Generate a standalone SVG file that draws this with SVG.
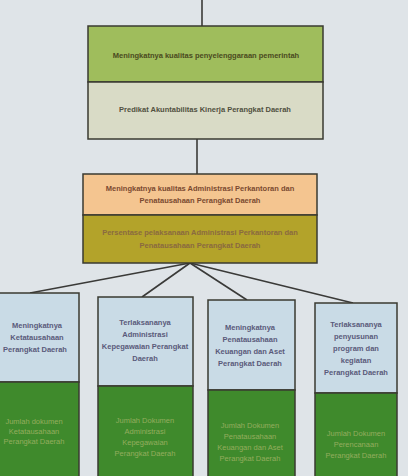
<svg xmlns="http://www.w3.org/2000/svg" width="408" height="476" viewBox="0 0 408 476">
<style>
.b{stroke:#3a3a30;stroke-width:1.5}
.t{font-family:"Liberation Sans",Arial,sans-serif;font-size:7.5px;font-weight:bold;text-anchor:middle}
.d{fill:#4a4a20}
.n{fill:#5a5a7a}
.g{fill:#94ad5e;font-weight:normal}
.c{stroke:#3a3a38;stroke-width:1.6;fill:none}
</style>
<rect width="408" height="476" fill="#dfe4e8"/>
<g id="connectors">
<line class="c" x1="202" y1="0" x2="202" y2="26"/>
<line class="c" x1="197" y1="139" x2="197" y2="174"/>
<line class="c" x1="190" y1="263" x2="30" y2="293"/>
<line class="c" x1="190" y1="263" x2="142" y2="297"/>
<line class="c" x1="190" y1="263" x2="247" y2="300"/>
<line class="c" x1="190" y1="263" x2="353" y2="303"/>
</g>
<g id="n1">
<rect class="b" x="88" y="26" width="235" height="56" fill="#9fbd5c"/>
<rect class="b" x="88" y="82" width="235" height="57" fill="#d9dbc6"/>
<text class="t d" x="206" y="58">Meningkatnya kualitas penyelenggaraan pemerintah</text>
<text class="t d" x="205" y="112" style="fill:#505040">Predikat Akuntabilitas Kinerja Perangkat Daerah</text>
</g>
<g id="n2">
<rect class="b" x="83" y="174" width="234" height="41" fill="#f4c590"/>
<rect class="b" x="83" y="215" width="234" height="48" fill="#b3a32a"/>
<text class="t" x="200" y="191" fill="#7a4a30">Meningkatnya kualitas Administrasi Perkantoran dan</text>
<text class="t" x="200" y="203" fill="#7a4a30">Penatausahaan Perangkat Daerah</text>
<text class="t" x="200" y="235" fill="#8a6a40">Persentase pelaksanaan  Administrasi Perkantoran dan</text>
<text class="t" x="200" y="248" fill="#8a6a40">Penatausahaan Perangkat Daerah</text>
</g>
<g id="c1">
<rect class="b" x="-6" y="293" width="85" height="89" fill="#c9dbe6"/>
<rect class="b" x="-6" y="382" width="85" height="100" fill="#3f8a2c"/>
<text class="t n" x="37" y="328">Meningkatnya</text>
<text class="t n" x="37" y="340">Ketatausahaan</text>
<text class="t n" x="35" y="352">Perangkat Daerah</text>
<text class="t g" x="34" y="424">Jumlah dokumen</text>
<text class="t g" x="34" y="434">Ketatausahaan</text>
<text class="t g" x="34" y="444">Perangkat Daerah</text>
</g>
<g id="c2">
<rect class="b" x="98" y="297" width="95" height="89" fill="#c9dbe6"/>
<rect class="b" x="98" y="386" width="95" height="96" fill="#3f8a2c"/>
<text class="t n" x="145" y="325">Terlaksananya</text>
<text class="t n" x="145" y="337">Administrasi</text>
<text class="t n" x="145" y="349">Kepegawaian Perangkat</text>
<text class="t n" x="145" y="361">Daerah</text>
<text class="t g" x="145" y="423">Jumlah Dokumen</text>
<text class="t g" x="145" y="434">Administrasi</text>
<text class="t g" x="145" y="445">Kepegawaian</text>
<text class="t g" x="145" y="456">Perangkat Daerah</text>
</g>
<g id="c3">
<rect class="b" x="208" y="300" width="87" height="90" fill="#c9dbe6"/>
<rect class="b" x="208" y="390" width="87" height="92" fill="#3f8a2c"/>
<text class="t n" x="250" y="330">Meningkatnya</text>
<text class="t n" x="250" y="342">Penatausahaan</text>
<text class="t n" x="250" y="354">Keuangan dan Aset</text>
<text class="t n" x="250" y="366">Perangkat Daerah</text>
<text class="t g" x="250" y="428">Jumlah Dokumen</text>
<text class="t g" x="250" y="439">Penatausahaan</text>
<text class="t g" x="250" y="450">Keuangan dan Aset</text>
<text class="t g" x="250" y="461">Perangkat Daerah</text>
</g>
<g id="c4">
<rect class="b" x="315" y="303" width="82" height="90" fill="#c9dbe6"/>
<rect class="b" x="315" y="393" width="82" height="89" fill="#3f8a2c"/>
<text class="t n" x="356" y="327">Terlaksananya</text>
<text class="t n" x="356" y="339">penyusunan</text>
<text class="t n" x="356" y="351">program dan</text>
<text class="t n" x="356" y="363">kegiatan</text>
<text class="t n" x="356" y="375">Perangkat Daerah</text>
<text class="t g" x="356" y="436">Jumlah Dokumen</text>
<text class="t g" x="356" y="447">Perencanaan</text>
<text class="t g" x="356" y="458">Perangkat Daerah</text>
</g>
</svg>
